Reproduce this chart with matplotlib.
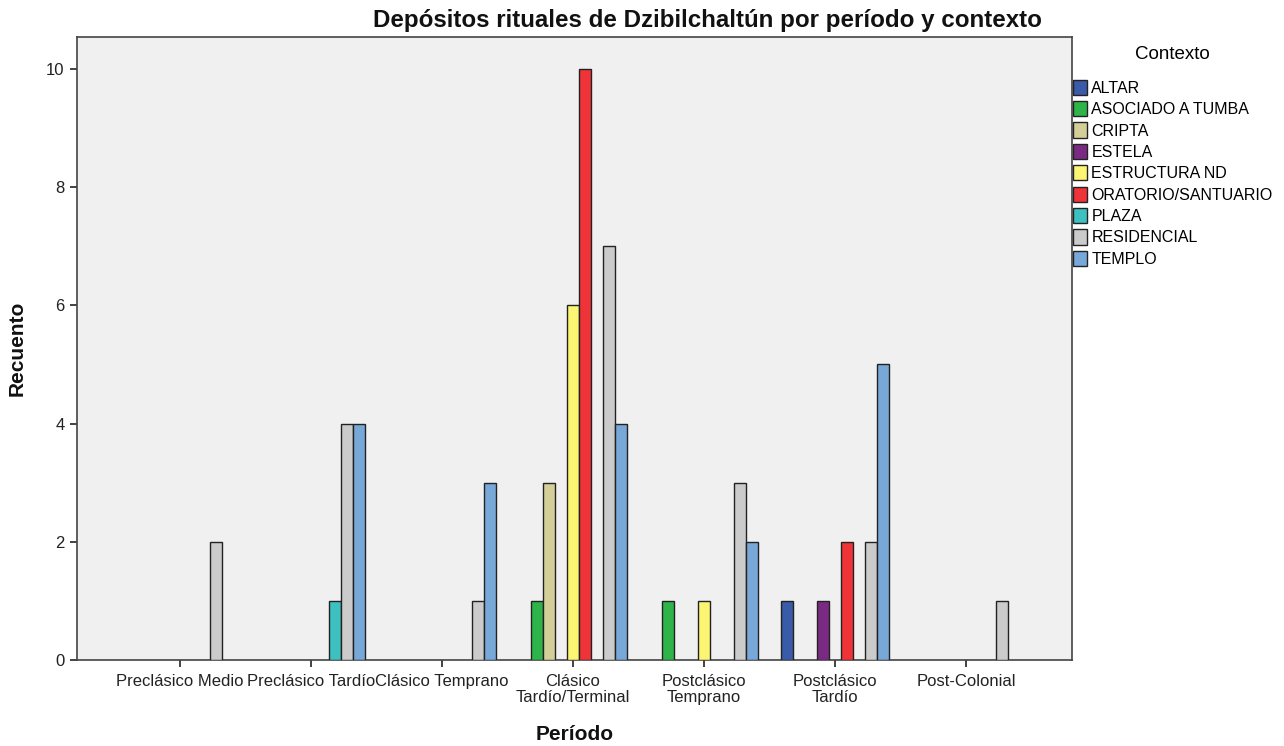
import matplotlib
matplotlib.use("Agg")
import matplotlib.pyplot as plt
import numpy as np
from matplotlib.patches import Patch

plt.rcParams['font.family'] = ['Liberation Sans', 'DejaVu Sans']

periods = ["Preclásico Medio", "Preclásico Tardío", "Clásico Temprano",
           "Clásico\nTardío/Terminal", "Postclásico\nTemprano",
           "Postclásico\nTardío", "Post-Colonial"]
contexts = ["ALTAR", "ASOCIADO A TUMBA", "CRIPTA", "ESTELA", "ESTRUCTURA ND",
            "ORATORIO/SANTUARIO", "PLAZA", "RESIDENCIAL", "TEMPLO"]
colors = ["#3a5ba9", "#2fb449", "#d4cf98", "#7b2a83", "#fbf573",
          "#ee3339", "#3ec0c0", "#cbcbcb", "#78a8d8"]

# counts[context][period]
altar       = [0, 0, 0, 0, 0, 1, 0]
asociado    = [0, 0, 0, 1, 1, 0, 0]
cripta      = [0, 0, 0, 3, 0, 0, 0]
estela      = [0, 0, 0, 0, 0, 1, 0]
estructura  = [0, 0, 0, 6, 1, 0, 0]
oratorio    = [0, 0, 0, 10, 0, 2, 0]
plaza       = [0, 1, 0, 0, 0, 0, 0]
residencial = [2, 4, 1, 7, 3, 2, 1]
templo      = [0, 4, 3, 4, 2, 5, 0]
series = [altar, asociado, cripta, estela, estructura, oratorio, plaza, residencial, templo]

fig = plt.figure(figsize=(12.84, 7.46), dpi=100)
ax = fig.add_axes([77/1284, 86/746, 995/1284, 623/746])
ax.set_facecolor("#f0f0f0")

x = np.arange(len(periods))
w = 12/131
n = len(contexts)
for i, (vals, c) in enumerate(zip(series, colors)):
    off = (i - (n - 1) / 2) * w
    vals = np.array(vals)
    mask = vals > 0
    ax.bar(x[mask] + off, vals[mask], width=w, color=c, edgecolor="#222222",
           linewidth=1.0, zorder=3)

ax.set_xlim(-0.786, 6.81)
ax.set_ylim(0, 10.54)
ax.set_yticks([0, 2, 4, 6, 8, 10])
ax.set_xticks(x)
ax.set_xticklabels(periods, fontsize=12, color="#222222", linespacing=1.12)
ax.tick_params(axis='y', labelsize=12, colors="#222222", length=5, width=1.2, pad=4)
ax.tick_params(axis='x', length=5, width=1.2, colors="#222222", pad=5)
for s in ax.spines.values():
    s.set_color("#444444")
    s.set_linewidth(1.2)

fig.text(707/1284, 1 - 20/746,
         "Depósitos rituales de Dzibilchaltún por período y contexto",
         fontsize=17.4, fontweight='bold', ha='center', va='center', color="#111111")
ax.set_xlabel("Período", fontsize=15, fontweight='bold', labelpad=14, color="#111111")
ax.set_ylabel("Recuento", fontsize=15, fontweight='bold', labelpad=14, color="#111111")

handles = [Patch(facecolor=c, edgecolor="#222222", linewidth=1.0) for c in colors]
leg = fig.legend(handles, contexts, loc="upper left", bbox_to_anchor=(1073/1284, 1 - 46/746),
                 frameon=False, title="Contexto", fontsize=11.5, title_fontsize=13.5,
                 handlelength=0.9, handleheight=1.1, handletextpad=0.25,
                 labelspacing=0.33, borderaxespad=0, borderpad=0.0)
leg._legend_box.align = "center"
leg._legend_box.sep = 12

fig.savefig("out.png", dpi=100)
